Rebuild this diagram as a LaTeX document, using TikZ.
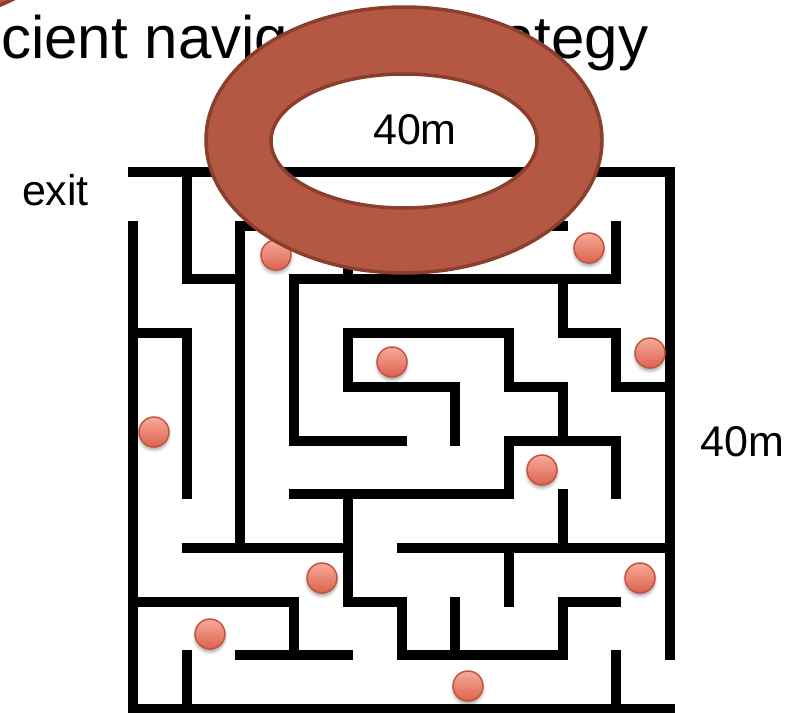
\documentclass[tikz,border=0pt]{standalone}
\usepackage{fontspec}
\setmainfont{Liberation Sans}
\usetikzlibrary{shadows.blur}
\definecolor{ringfill}{HTML}{B45843}
\definecolor{ringedge}{HTML}{8A3F2D}
\definecolor{balltop}{HTML}{F6AA9A}
\definecolor{ballbot}{HTML}{DC634D}
\definecolor{balledge}{HTML}{C4533E}
\tikzset{
  mazewall/.style={line width=10pt, line cap=rect, line join=miter},
  coin/.style={circle, minimum size=30pt, inner sep=0pt, draw=balledge,
    line width=1.5pt, top color=balltop, bottom color=ballbot,
    blur shadow={shadow xshift=0pt, shadow yshift=-3pt,
      shadow blur radius=3pt, shadow opacity=35}},
  donut/.style={fill=ringfill, draw=ringedge, line width=3.5pt, even odd rule},
  dimtext/.style={font=\fontsize{43}{52}\selectfont, inner sep=0pt, anchor=base},
}
\begin{document}
\begin{tikzpicture}[x=1pt, y=-1pt]
  \useasboundingbox (0,0) rectangle (800,712);
  \clip (0,0) rectangle (800,712);

  % heading, partly hidden behind the ring
  \node[font=\fontsize{60}{72}\selectfont, anchor=base west, inner sep=0pt]
    (title) at (-84.5,58) {Efficient navigation strategy};

  % maze walls on a 10 x 10 grid
  \begin{scope}[shift={(133,172)}, x=53.7pt, y=-53.7pt, mazewall]
    \draw (0,0) -- (10,0) -- (10,9);
    \draw (0,1) -- (0,10) -- (10,10);
    \draw (1,0) -- (1,2) -- (2,2);
    \draw (2,1) -- (2,7);
    \draw (2,1) -- (8,1);
    \draw (4,1) -- (4,2);
    \draw (9,1) -- (9,2) -- (3,2) -- (3,5) -- (5,5);
    \draw (8,2) -- (8,3) -- (9,3) -- (9,4) -- (10,4);
    \draw (0,3) -- (1,3) -- (1,6);
    \draw (8,5) -- (8,4) -- (7,4) -- (7,3) -- (4,3) -- (4,4) -- (6,4) -- (6,5);
    \draw (3,6) -- (7,6) -- (7,5) -- (9,5) -- (9,6);
    \draw (4,6) -- (4,8) -- (5,8) -- (5,9) -- (8,9) -- (8,8) -- (9,8);
    \draw (6,8) -- (6,9);
    \draw (8,6) -- (8,7);
    \draw (5,7) -- (10,7);
    \draw (7,7) -- (7,8);
    \draw (9,9) -- (9,10);
    \draw (1,7) -- (4,7);
    \draw (0,8) -- (3,8) -- (3,9);
    \draw (2,9) -- (4,9);
    \draw (1,9) -- (1,10);
  \end{scope}

  % items scattered in the maze
  \node[coin] (c1) at (276,255) {};
  \node[coin] (c2) at (589,248) {};
  \node[coin] (c3) at (650,353) {};
  \node[coin] (c4) at (392,362) {};
  \node[coin] (c5) at (154,432) {};
  \node[coin] (c6) at (542,470) {};
  \node[coin] (c7) at (322,578) {};
  \node[coin] (c8) at (640,578) {};
  \node[coin] (c9) at (210,634) {};
  \node[coin] (c10) at (468,686) {};

  % rings
  \draw[donut] (-104,-108) ellipse [x radius=198, y radius=133]
               (-104,-107) ellipse [x radius=133, y radius=67];
  \draw[donut] (404,140) ellipse [x radius=198, y radius=133]
               (404,141) ellipse [x radius=133, y radius=67];

  % labels
  \node[dimtext] (w) at (415,144) {40m};
  \node[dimtext] (h) at (742.5,456) {40m};
  \node[dimtext] (exit) at (55.5,205) {exit};
\end{tikzpicture}
\end{document}
